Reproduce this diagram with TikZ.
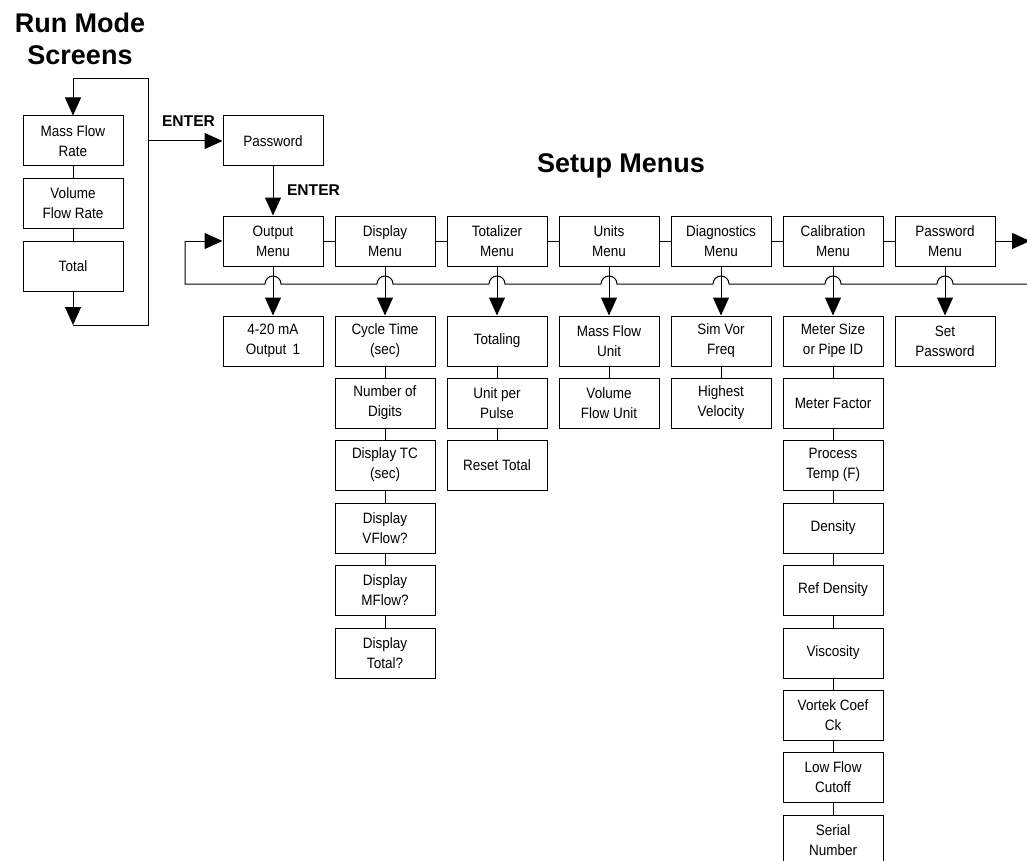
\documentclass[tikz,border=0pt]{standalone}
\usepackage{fontspec}
\setmainfont{Liberation Sans}
\newfontfamily\boxfont[FakeStretch=0.9]{Liberation Sans}
\usetikzlibrary{arrows.meta}
\tikzset{
  box/.style={draw, line width=1pt, minimum width=100pt, minimum height=50pt, inner sep=0pt, align=center, font=\boxfont\fontsize{15}{20}\selectfont},
  ttl/.style={font=\bfseries\fontsize{27}{32}\selectfont, anchor=base, inner sep=0pt},
  lbl/.style={font=\bfseries\fontsize{15.6}{18}\selectfont, anchor=base, inner sep=0pt},
  arr/.style={line width=1pt, -{Triangle[length=18pt,width=16pt]}},
  ln/.style={line width=1pt},
}
\begin{document}
\begin{tikzpicture}[x=1pt,y=1pt]
\useasboundingbox (0,0) rectangle (1027,-861);
% titles
\node[ttl] (t1) at (80,-33) {Run Mode};
\node[ttl] (t2) at (80,-65) {Screens};
\node[ttl] (t3) at (621,-173) {Setup Menus};
\node[lbl] (e1) at (188.5,-127) {ENTER};
\node[lbl] (e2) at (313.5,-195) {ENTER};
% run mode screens
\node[box] (mf) at (73,-141) {Mass Flow\\Rate};
\node[box] (vf) at (73,-203.5) {Volume\\Flow Rate};
\node[box] (tot) at (73,-266) {Total};
\draw[ln] (mf.south) -- (vf.north);
\draw[ln] (vf.south) -- (tot.north);
\coordinate (lb) at (73,-325);
\coordinate (rb) at (148,-325);
\coordinate (rt) at (148,-79);
\coordinate (lt) at (73,-79);
\coordinate (rm) at (148,-141);
\draw[arr] (tot.south) -- (lb);
\draw[ln] (lb) -- (rb) -- (rt) -- (lt);
\draw[arr] (lt) -- (mf.north);
% password
\node[box] (pw) at (273,-141) {Password};
\draw[arr] (rm) -- (pw.west);
% menus
\node[box] (om) at (273,-241) {Output\\Menu};
\node[box] (dm) at (385,-241) {Display\\Menu};
\node[box] (tm) at (497,-241) {Totalizer\\Menu};
\node[box] (um) at (609,-241) {Units\\Menu};
\node[box] (gm) at (721,-241) {Diagnostics\\Menu};
\node[box] (cm) at (833,-241) {Calibration\\Menu};
\node[box] (pm) at (945,-241) {Password\\Menu};
\draw[arr] (pw.south) -- (om.north);
\draw[ln] (om.east) -- (dm.west);
\draw[ln] (dm.east) -- (tm.west);
\draw[ln] (tm.east) -- (um.west);
\draw[ln] (um.east) -- (gm.west);
\draw[ln] (gm.east) -- (cm.west);
\draw[ln] (cm.east) -- (pm.west);
\coordinate (rend) at (1030,-241);
\draw[arr] (pm.east) -- (rend);
% return bus with hops
\coordinate (bend) at (1030,-284);
\coordinate (bl) at (185,-284);
\coordinate (fb) at (185,-241);
\draw[ln] (bend) -- (953,-284) arc(0:180:8) -- (841,-284) arc(0:180:8)
  -- (729,-284) arc(0:180:8) -- (617,-284) arc(0:180:8)
  -- (505,-284) arc(0:180:8) -- (393,-284) arc(0:180:8)
  -- (281,-284) arc(0:180:8) -- (bl) -- (fb);
\draw[arr] (fb) -- (om.west);
% output
\node[box] (o1) at (273,-341) {4-20 mA\\Output\, 1};
\draw[arr] (om.south) -- (o1.north);
% display
\node[box] (d1) at (385,-341) {Cycle Time\\(sec)};
\node[box] (d2) at (385,-403) {Number of\\Digits};
\node[box] (d3) at (385,-465) {Display TC\\(sec)};
\node[box] (d4) at (385,-528) {Display\\VFlow?};
\node[box] (d5) at (385,-590) {Display\\MFlow?};
\node[box] (d6) at (385,-653) {Display\\Total?};
\draw[arr] (dm.south) -- (d1.north);
\draw[ln] (d1.south) -- (d2.north);
\draw[ln] (d2.south) -- (d3.north);
\draw[ln] (d3.south) -- (d4.north);
\draw[ln] (d4.south) -- (d5.north);
\draw[ln] (d5.south) -- (d6.north);
% totalizer
\node[box] (z1) at (497,-341) {Totaling};
\node[box] (z2) at (497,-403) {Unit per\\Pulse};
\node[box] (z3) at (497,-465) {Reset Total};
\draw[arr] (tm.south) -- (z1.north);
\draw[ln] (z1.south) -- (z2.north);
\draw[ln] (z2.south) -- (z3.north);
% units
\node[box] (u1) at (609,-341) {Mass Flow\\Unit};
\node[box] (u2) at (609,-403) {Volume\\Flow Unit};
\draw[arr] (um.south) -- (u1.north);
\draw[ln] (u1.south) -- (u2.north);
% diagnostics
\node[box] (g1) at (721,-341) {Sim Vor\\Freq};
\node[box] (g2) at (721,-403) {Highest\\Velocity};
\draw[arr] (gm.south) -- (g1.north);
\draw[ln] (g1.south) -- (g2.north);
% calibration
\node[box] (c1) at (833,-341) {Meter Size\\or Pipe ID};
\node[box] (c2) at (833,-403) {Meter Factor};
\node[box] (c3) at (833,-465) {Process\\Temp (F)};
\node[box] (c4) at (833,-528) {Density};
\node[box] (c5) at (833,-590) {Ref Density};
\node[box] (c6) at (833,-653) {Viscosity};
\node[box] (c7) at (833,-715) {Vortek Coef\\Ck};
\node[box] (c8) at (833,-777) {Low Flow\\Cutoff};
\node[box] (c9) at (833,-840) {Serial\\Number};
\draw[arr] (cm.south) -- (c1.north);
\draw[ln] (c1.south) -- (c2.north);
\draw[ln] (c2.south) -- (c3.north);
\draw[ln] (c3.south) -- (c4.north);
\draw[ln] (c4.south) -- (c5.north);
\draw[ln] (c5.south) -- (c6.north);
\draw[ln] (c6.south) -- (c7.north);
\draw[ln] (c7.south) -- (c8.north);
\draw[ln] (c8.south) -- (c9.north);
% password menu
\node[box] (p1) at (945,-341) {Set\\Password};
\draw[arr] (pm.south) -- (p1.north);
\end{tikzpicture}
\end{document}
